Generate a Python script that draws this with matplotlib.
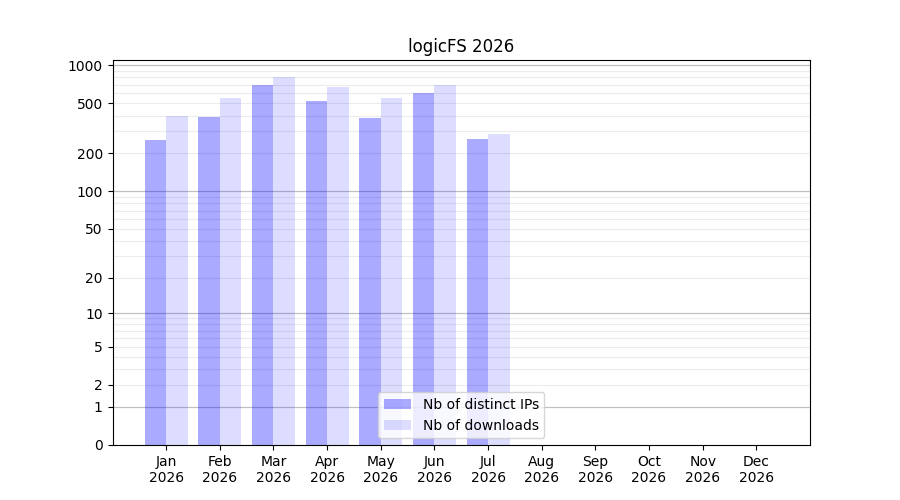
import matplotlib
matplotlib.use("Agg")
import matplotlib.pyplot as plt
import numpy as np
from matplotlib.ticker import FixedLocator, FixedFormatter

months = ["Jan", "Feb", "Mar", "Apr", "May", "Jun", "Jul", "Aug", "Sep", "Oct", "Nov", "Dec"]
year = "2026"
distinct_ips = [255, 386, 696, 517, 379, 600, 260, 0, 0, 0, 0, 0]
downloads = [400, 555, 801, 667, 546, 696, 288, 0, 0, 0, 0, 0]
title = "logicFS 2026"

def fwd(y):
    return np.log10(np.maximum(y, 0) + 1)

def inv(v):
    return 10 ** v - 1

fig, ax = plt.subplots(figsize=(9, 5), dpi=100)
ax.set_yscale("function", functions=(fwd, inv))

x = np.arange(1, len(months) + 1)
w = 0.4
ax.bar(x - w / 2, distinct_ips, width=w, color=(0, 0, 1, 1 / 3), label="Nb of distinct IPs", zorder=2)
ax.bar(x + w / 2, downloads, width=w, color=(0, 0, 1, 0.133), label="Nb of downloads", zorder=2)

major = [0, 1, 2, 5, 10, 20, 50, 100, 200, 500, 1000]
ax.yaxis.set_major_locator(FixedLocator(major))
ax.yaxis.set_major_formatter(FixedFormatter([str(m) for m in major]))
ax.yaxis.set_minor_locator(FixedLocator([]))

for d in [1, 10, 100, 1000]:
    ax.axhline(d, color="#c0c0c0", lw=0.9, zorder=1)
for dec in [1, 10, 100]:
    for k in range(2, 10):
        ax.axhline(dec * k, color="#ececec", lw=0.8, zorder=1)

ax.set_ylim(0, 1100)
ax.set_xlim(0, 13)
ax.set_xticks(x)
ax.set_xticklabels([f"{m}\n{year}" for m in months])
ax.set_title(title)
ax.legend(loc="lower center")

fig.savefig("out.png", dpi=100)
